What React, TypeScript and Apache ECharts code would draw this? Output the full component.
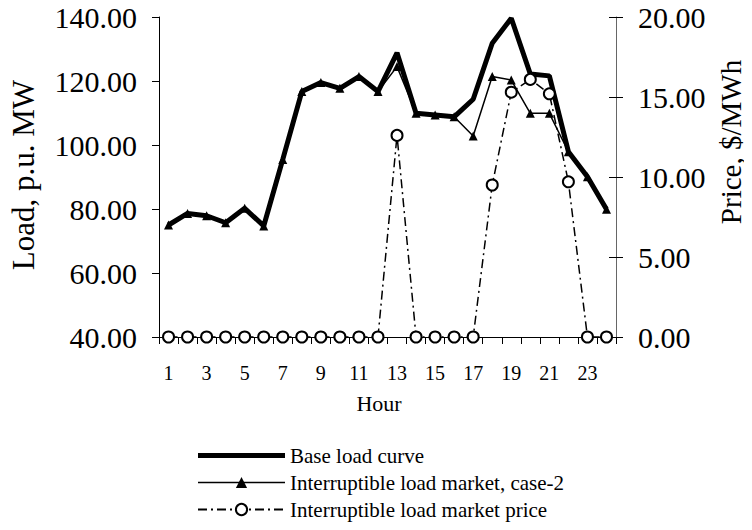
import React, { useEffect, useRef } from "react";
import * as echarts from "echarts";

const hours = ["1","2","3","4","5","6","7","8","9","10","11","12","13","14","15","16","17","18","19","20","21","22","23","24"];
const baseLoad = [75.0, 78.6, 77.9, 75.7, 80.2, 74.7, 95.5, 116.7, 119.5, 117.7, 121.4, 116.7, 128.8, 109.9, 109.4, 108.8, 114.3, 131.8, 139.6, 122.2, 121.6, 97.9, 90.1, 79.9];
const case2Load = [75.0, 78.6, 77.9, 75.7, 80.2, 74.7, 95.5, 116.7, 119.5, 117.7, 121.4, 116.7, 124.5, 109.9, 109.4, 108.8, 102.8, 121.4, 120.3, 109.9, 109.9, 97.9, 90.1, 79.9];
const marketPrice = [0, 0, 0, 0, 0, 0, 0, 0, 0, 0, 0, 0, 12.6, 0, 0, 0, 0, 9.5, 15.3, 16.1, 15.2, 9.7, 0, 0];

const seriesNames = ["Base load curve", "Interruptible load market, case-2", "Interruptible load market price"];
const leftAxisName = "Load, p.u. MW";
const rightAxisName = "Price, $/MWh";
const xAxisName = "Hour";

const FONT = "Liberation Serif";

export default function App() {
  const ref = useRef<HTMLDivElement>(null);
  useEffect(() => {
    if (!ref.current) return;
    const chart = echarts.init(ref.current, null, { renderer: "svg" });
    chart.setOption({
      animation: false,
      backgroundColor: "#ffffff",
      textStyle: { fontFamily: FONT, color: "#000" },
      grid: { left: 159, right: 136, top: 17, bottom: 193, containLabel: false },
      legend: {
        orient: "vertical",
        left: 197,
        top: 445,
        padding: 0,
        itemWidth: 87,
        itemHeight: 14,
        itemGap: 6,
        textStyle: { fontFamily: FONT, fontSize: 21, color: "#000" },
        data: [
          { name: seriesNames[0], icon: "path://M0 0H87V5H0Z", itemStyle: { color: "#000" } },
          { name: seriesNames[1], lineStyle: { width: 1.5 } },
          { name: seriesNames[2], lineStyle: { width: 2 } },
        ],
      },
      xAxis: {
        type: "category",
        data: hours,
        boundaryGap: true,
        axisLine: { show: true, lineStyle: { color: "#000", width: 1 } },
        axisTick: { show: true, length: 7, interval: 0, lineStyle: { color: "#000" } },
        axisLabel: { interval: 1, fontSize: 20, fontFamily: FONT, color: "#000", margin: 26 },
        splitLine: { show: false },
      },
      yAxis: [
        {
          type: "value",
          position: "left",
          min: 40,
          max: 140,
          interval: 20,
          axisLine: { show: true, lineStyle: { color: "#000", width: 1 } },
          axisTick: { show: true, length: 7, lineStyle: { color: "#000" } },
          axisLabel: { fontSize: 30, fontFamily: FONT, color: "#000", margin: 22, formatter: (v: number) => v.toFixed(2) },
          splitLine: { show: false },
        },
        {
          type: "value",
          position: "right",
          min: 0,
          max: 20,
          interval: 5,
          axisLine: { show: true, lineStyle: { color: "#666", width: 1 } },
          axisTick: { show: true, length: 7, lineStyle: { color: "#000" } },
          axisLabel: { fontSize: 30, fontFamily: FONT, color: "#000", margin: 22, formatter: (v: number) => v.toFixed(2) },
          splitLine: { show: false },
        },
        {
          type: "value",
          position: "right",
          min: 0,
          max: 20,
          interval: 5,
          axisLine: { show: false },
          axisTick: { show: true, inside: true, length: 7, lineStyle: { color: "#000" } },
          axisLabel: { show: false },
          splitLine: { show: false },
        },
      ],
      graphic: [
        {
          type: "text",
          x: 23,
          y: 175,
          rotation: Math.PI / 2,
          style: { text: leftAxisName, fontFamily: FONT, fontSize: 31, fill: "#000", textAlign: "center", textVerticalAlign: "middle" },
        },
        {
          type: "text",
          x: 731,
          y: 142,
          rotation: Math.PI / 2,
          style: { text: rightAxisName, fontFamily: FONT, fontSize: 29, fill: "#000", textAlign: "center", textVerticalAlign: "middle" },
        },
        {
          type: "text",
          x: 379,
          y: 403,
          style: { text: xAxisName, fontFamily: FONT, fontSize: 22, fill: "#000", textAlign: "center", textVerticalAlign: "middle" },
        },
      ],
      series: [
        {
          name: seriesNames[0],
          type: "line",
          yAxisIndex: 0,
          data: baseLoad,
          symbol: "none",
          lineStyle: { color: "#000", width: 5 },
          itemStyle: { color: "#000" },
          z: 3,
        },
        {
          name: seriesNames[1],
          type: "line",
          yAxisIndex: 0,
          data: case2Load,
          symbol: "triangle",
          symbolSize: 9,
          lineStyle: { color: "#000", width: 1.5 },
          itemStyle: { color: "#000" },
          z: 4,
        },
        {
          name: seriesNames[2],
          type: "line",
          yAxisIndex: 1,
          data: marketPrice,
          symbol: "emptyCircle",
          symbolSize: 11,
          lineStyle: { color: "#000", width: 1.5, type: [9, 4, 2, 4] },
          itemStyle: { color: "#000", borderColor: "#000", borderWidth: 1.6 },
          z: 5,
        },
      ],
    });
    return () => chart.dispose();
  }, []);
  return <div ref={ref} style={{ width: 752, height: 530, margin: -8 }} />;
}
